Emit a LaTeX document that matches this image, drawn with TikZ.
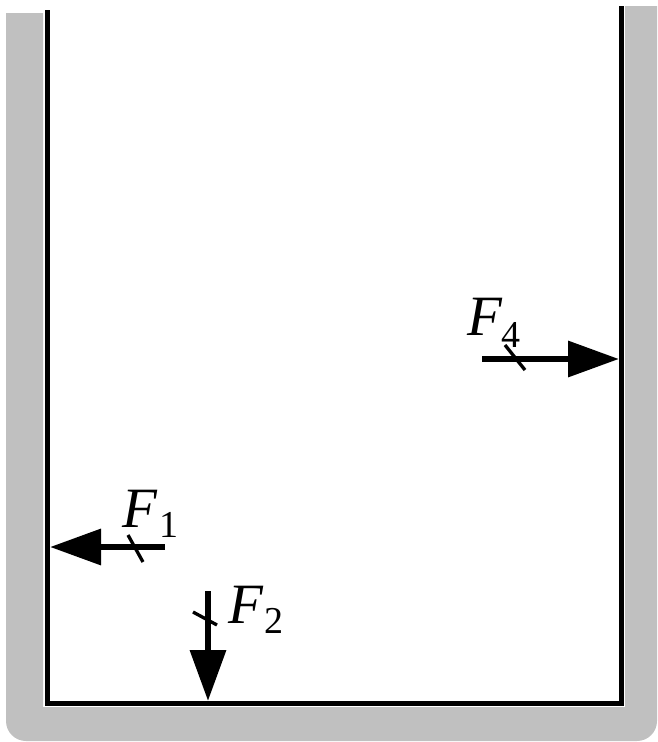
\documentclass[tikz,border=0pt]{standalone}
\usepackage{fontspec}
\setmainfont{Liberation Serif}
\usetikzlibrary{arrows.meta}
\definecolor{wallgray}{HTML}{C0C0C0}
\begin{document}
\begin{tikzpicture}[x=1pt,y=-1pt,
  wall/.style={line width=5pt, line join=miter},
  force/.style={line width=6.5pt, -{Triangle[length=51pt,width=35pt]}},
  tickmark/.style={line width=3.3pt},
  flab/.style={inner sep=0pt, anchor=base west, font=\fontsize{57}{57}\selectfont\itshape},
  fsub/.style={inner sep=0pt, anchor=base west, font=\fontsize{38}{38}\selectfont}]
\useasboundingbox (0,0) rectangle (657,742);
% gray container
\fill[wallgray] (43,13) -- (43,707) -- (625,707) -- (625,6) -- (657,6) -- (657,721)
  arc[start angle=0, end angle=90, radius=20] -- (26,741)
  arc[start angle=90, end angle=180, radius=20] -- (6,13) -- cycle;
% walls
\coordinate (tl) at (47.5,10);
\coordinate (bl) at (47.5,703);
\coordinate (br) at (621.5,703);
\coordinate (tr) at (621.5,6);
\draw[wall] (tl) -- (bl) -- (br) -- (tr);
% F1
\coordinate (f1tail) at (165,547);
\coordinate (f1tip) at (50,547);
\draw[force] (f1tail) -- (f1tip);
\coordinate (t1a) at (128,535);
\coordinate (t1b) at (143,562);
\draw[tickmark] (t1a) -- (t1b);
\node[flab] (F1) at (122.5,527) {F};
\node[fsub] (s1) at (159,537) {1};
% F2
\coordinate (f2tail) at (208,591);
\coordinate (f2tip) at (208,701);
\draw[force] (f2tail) -- (f2tip);
\coordinate (t2a) at (193,612);
\coordinate (t2b) at (217,625);
\draw[tickmark] (t2a) -- (t2b);
\node[flab] (F2) at (228.5,623) {F};
\node[fsub] (s2) at (264,633) {2};
% F4
\coordinate (f4tail) at (482,359);
\coordinate (f4tip) at (619,359);
\draw[force] (f4tail) -- (f4tip);
\coordinate (t4a) at (505,345);
\coordinate (t4b) at (525,370);
\draw[tickmark] (t4a) -- (t4b);
\node[flab] (F4) at (467.5,335) {F};
\node[fsub] (s4) at (501.5,347) {4};
\end{tikzpicture}
\end{document}
